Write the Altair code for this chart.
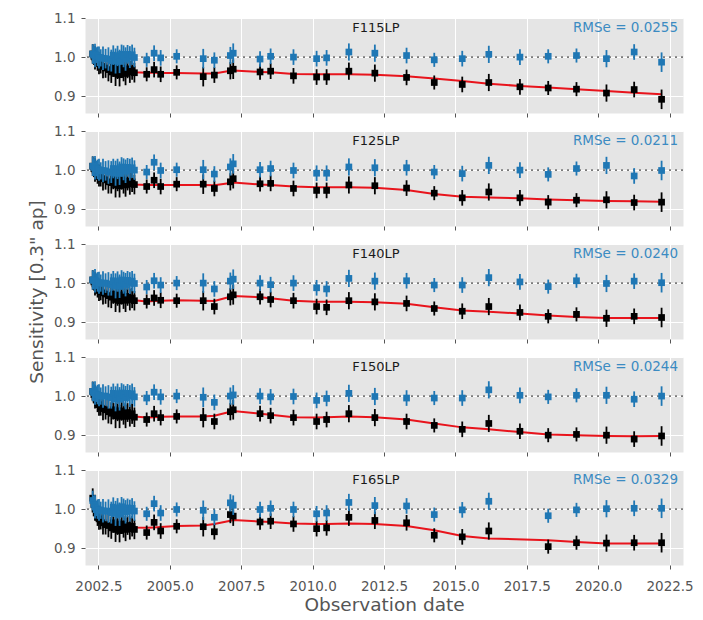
import altair as alt
import pandas as pd

FILTERS = ["F115LP", "F125LP", "F140LP", "F150LP", "F165LP"]
RMSE = ["RMSe = 0.0255", "RMSe = 0.0211", "RMSe = 0.0240", "RMSe = 0.0244", "RMSe = 0.0329"]

DATES = [2002.30, 2002.34, 2002.38, 2002.42, 2002.47, 2002.52, 2002.58, 2002.66, 2002.75, 2002.85, 2002.95,
         2003.02, 2003.10, 2003.17, 2003.24, 2003.31, 2003.38, 2003.45, 2003.52, 2003.60, 2003.68, 2003.76,
         2004.19, 2004.45, 2004.68, 2005.24, 2006.17, 2006.56, 2007.12, 2007.22, 2008.16, 2008.53, 2009.33,
         2010.14, 2010.49, 2011.27, 2012.18, 2013.29, 2014.26, 2015.24, 2016.17, 2017.26, 2018.25, 2019.24,
         2020.29, 2021.26, 2022.22]

ERR = [0.025, 0.022, 0.030, 0.020, 0.025, 0.028, 0.022, 0.030, 0.025, 0.030, 0.028,
       0.025, 0.032, 0.026, 0.030, 0.025, 0.028, 0.030, 0.024, 0.028, 0.026, 0.025,
       0.018, 0.020, 0.020, 0.018, 0.025, 0.020, 0.022, 0.025, 0.020, 0.020, 0.020,
       0.020, 0.020, 0.022, 0.022, 0.020, 0.018, 0.020, 0.022, 0.020, 0.018, 0.018,
       0.022, 0.020, 0.025]

# measured (black)
MEAS_F115 = [1.008, 1.002, 0.998, 0.996, 0.990, 0.984, 0.980, 0.976, 0.972, 0.968, 0.962,
             0.975, 0.958, 0.970, 0.955, 0.972, 0.966, 0.958, 0.970, 0.962, 0.968, 0.960,
             0.956, 0.968, 0.956, 0.961, 0.950, 0.954, 0.965, 0.969, 0.962, 0.964, 0.952,
             0.949, 0.949, 0.964, 0.959, 0.948, 0.935, 0.930, 0.935, 0.924, 0.921, 0.918,
             0.908, 0.917, 0.892]
MEAS_F125 = [1.010, 1.004, 1.000, 0.995, 0.990, 0.986, 0.980, 0.978, 0.975, 0.970, 0.968,
             0.976, 0.962, 0.972, 0.960, 0.975, 0.968, 0.962, 0.972, 0.965, 0.970, 0.963,
             0.958, 0.974, 0.958, 0.964, 0.964, 0.953, 0.970, 0.978, 0.965, 0.966, 0.953,
             0.948, 0.948, 0.962, 0.960, 0.954, 0.941, 0.929, 0.944, 0.929, 0.918, 0.923,
             0.924, 0.917, 0.918]
MEAS_F140 = [1.008, 1.003, 0.998, 0.993, 0.988, 0.982, 0.978, 0.975, 0.972, 0.968, 0.964,
             0.972, 0.958, 0.968, 0.955, 0.970, 0.962, 0.956, 0.966, 0.958, 0.962, 0.955,
             0.953, 0.962, 0.956, 0.955, 0.955, 0.940, 0.965, 0.970, 0.965, 0.958, 0.955,
             0.940, 0.938, 0.955, 0.952, 0.948, 0.935, 0.928, 0.940, 0.925, 0.915, 0.920,
             0.910, 0.915, 0.912]
MEAS_F150 = [1.012, 1.004, 0.998, 0.990, 0.984, 0.978, 0.972, 0.968, 0.965, 0.960, 0.956,
             0.965, 0.950, 0.962, 0.948, 0.962, 0.955, 0.948, 0.958, 0.950, 0.955, 0.946,
             0.940, 0.955, 0.945, 0.948, 0.945, 0.935, 0.960, 0.965, 0.955, 0.950, 0.945,
             0.935, 0.940, 0.955, 0.945, 0.935, 0.925, 0.915, 0.930, 0.910, 0.900, 0.902,
             0.900, 0.890, 0.898]
MEAS_F165 = [1.028, 1.012, 1.000, 0.990, 0.982, 0.975, 0.970, 0.965, 0.960, 0.958, 0.952,
             0.965, 0.948, 0.960, 0.945, 0.962, 0.955, 0.948, 0.958, 0.950, 0.956, 0.948,
             0.940, 0.966, 0.944, 0.956, 0.955, 0.942, 0.986, 0.982, 0.967, 0.969, 0.962,
             0.950, 0.952, 0.979, 0.971, 0.965, 0.933, 0.929, 0.944, None, 0.904, 0.914,
             0.913, 0.914, 0.914]

# model fit (red)
FIT_F115 = [1.000, 0.997, 0.994, 0.991, 0.988, 0.985, 0.982, 0.979, 0.976, 0.973, 0.971,
            0.970, 0.968, 0.967, 0.966, 0.965, 0.964, 0.963, 0.963, 0.962, 0.962, 0.961,
            0.960, 0.960, 0.959, 0.959, 0.958, 0.958, 0.965, 0.966, 0.962, 0.961, 0.957,
            0.956, 0.956, 0.956, 0.955, 0.951, 0.945, 0.939, 0.932, 0.926, 0.922, 0.918,
            0.913, 0.909, 0.905]
FIT_F125 = [1.000, 0.997, 0.994, 0.991, 0.988, 0.985, 0.982, 0.979, 0.977, 0.975, 0.973,
            0.972, 0.970, 0.969, 0.968, 0.967, 0.966, 0.965, 0.965, 0.964, 0.964, 0.963,
            0.962, 0.962, 0.962, 0.962, 0.962, 0.961, 0.967, 0.968, 0.963, 0.962, 0.958,
            0.956, 0.956, 0.956, 0.955, 0.949, 0.939, 0.932, 0.930, 0.928, 0.925, 0.923,
            0.921, 0.920, 0.919]
FIT_F140 = [1.000, 0.996, 0.992, 0.988, 0.985, 0.981, 0.978, 0.975, 0.972, 0.970, 0.968,
            0.966, 0.965, 0.964, 0.963, 0.962, 0.961, 0.960, 0.959, 0.958, 0.957, 0.956,
            0.953, 0.954, 0.955, 0.956, 0.955, 0.954, 0.965, 0.967, 0.964, 0.961, 0.955,
            0.952, 0.952, 0.952, 0.951, 0.947, 0.938, 0.930, 0.927, 0.922, 0.917, 0.913,
            0.911, 0.911, 0.911]
FIT_F150 = [1.000, 0.995, 0.990, 0.985, 0.980, 0.976, 0.972, 0.968, 0.965, 0.962, 0.960,
            0.958, 0.957, 0.956, 0.955, 0.954, 0.953, 0.952, 0.951, 0.950, 0.949, 0.948,
            0.945, 0.946, 0.947, 0.948, 0.948, 0.950, 0.960, 0.962, 0.955, 0.952, 0.946,
            0.945, 0.946, 0.948, 0.946, 0.940, 0.930, 0.920, 0.915, 0.908, 0.902, 0.900,
            0.898, 0.897, 0.898]
FIT_F165 = [1.005, 1.000, 0.994, 0.988, 0.982, 0.977, 0.973, 0.969, 0.966, 0.963, 0.961,
            0.960, 0.959, 0.958, 0.957, 0.956, 0.956, 0.955, 0.955, 0.954, 0.954, 0.953,
            0.952, 0.953, 0.954, 0.957, 0.958, 0.962, 0.970, 0.972, 0.968, 0.967, 0.963,
            0.962, 0.962, 0.963, 0.962, 0.957, 0.946, 0.931, 0.925, None, 0.920, 0.916,
            0.912, 0.912, 0.912]

# corrected (blue)
CORR_F115 = [1.008, 1.005, 1.004, 1.005, 1.002, 0.999, 0.998, 0.997, 0.996, 0.995, 0.991,
             1.005, 0.990, 1.003, 0.989, 1.007, 1.002, 0.995, 1.007, 1.000, 1.006, 0.999,
             0.993, 1.010, 0.998, 1.002, 0.996, 0.992, 1.004, 1.010, 0.995, 1.002, 1.000,
             0.996, 0.998, 1.013, 1.010, 1.004, 0.993, 0.996, 1.007, 1.000, 1.002, 1.004,
             0.996, 1.013, 0.987]
CORR_F125 = [1.010, 1.007, 1.006, 1.004, 1.002, 1.001, 0.998, 0.999, 0.998, 0.995, 0.995,
             1.004, 0.992, 1.003, 0.992, 1.008, 1.002, 0.997, 1.007, 1.001, 1.006, 1.000,
             0.995, 1.020, 0.999, 1.001, 1.001, 0.990, 1.008, 1.016, 1.001, 1.004, 0.999,
             0.992, 0.992, 1.008, 1.006, 1.006, 0.995, 0.991, 1.012, 1.000, 0.989, 1.004,
             1.012, 0.985, 0.999]
CORR_F140 = [1.008, 1.007, 1.006, 1.005, 1.003, 1.001, 1.000, 1.000, 1.000, 0.998, 0.996,
             1.006, 0.993, 1.004, 0.992, 1.008, 1.001, 0.996, 1.007, 1.000, 1.005, 0.999,
             0.990, 1.006, 0.995, 1.000, 1.000, 0.985, 1.005, 1.010, 1.000, 0.996, 1.000,
             0.988, 0.985, 1.012, 1.005, 1.006, 0.995, 0.995, 1.014, 1.003, 0.991, 1.006,
             0.999, 1.005, 1.001]
CORR_F150 = [1.012, 1.009, 1.008, 1.005, 1.004, 1.002, 1.000, 1.000, 1.000, 0.998, 0.996,
             1.007, 0.993, 1.006, 0.993, 1.008, 1.002, 0.996, 1.007, 1.000, 1.006, 0.998,
             0.995, 1.010, 0.998, 1.000, 0.997, 0.984, 1.000, 1.003, 1.000, 0.998, 0.999,
             0.989, 0.994, 1.007, 0.999, 0.995, 0.995, 0.995, 1.016, 1.002, 0.998, 1.002,
             1.002, 0.992, 1.000]
CORR_F165 = [1.022, 1.012, 1.006, 1.002, 1.000, 0.998, 0.997, 0.996, 0.994, 0.995, 0.991,
             1.005, 0.989, 1.002, 0.987, 1.006, 0.999, 0.993, 1.003, 0.996, 1.002, 0.995,
             0.988, 1.014, 0.990, 0.999, 0.997, 0.979, 1.016, 1.010, 0.999, 1.002, 0.999,
             0.988, 0.990, 1.017, 1.009, 1.008, 0.986, 0.998, 1.020, None, 0.983, 0.998,
             1.001, 1.002, 1.002]

MEAS = [MEAS_F115, MEAS_F125, MEAS_F140, MEAS_F150, MEAS_F165]
FIT = [FIT_F115, FIT_F125, FIT_F140, FIT_F150, FIT_F165]
CORR = [CORR_F115, CORR_F125, CORR_F140, CORR_F150, CORR_F165]

X_TICKS = [2002.5, 2005.0, 2007.5, 2010.0, 2012.5, 2015.0, 2017.5, 2020.0, 2022.5]
Y_TICKS = [0.9, 1.0, 1.1]

FONT = "DejaVu Sans"
BLUE = "#1f77b4"
W, H = 598, 95


def panel(i):
    bottom = i == 4
    df = pd.DataFrame({"date": DATES, "meas": MEAS[i], "fit": FIT[i],
                       "corr": CORR[i], "err": ERR}).dropna()
    base = alt.Chart(df).transform_calculate(
        m_lo="datum.meas - datum.err", m_hi="datum.meas + datum.err",
        c_lo="datum.corr - datum.err", c_hi="datum.corr + datum.err")

    xaxis_kw = dict(values=X_TICKS, format=".1f", labels=bottom, grid=True,
                    gridColor="white", gridWidth=1, tickSize=4, domain=False,
                    labelPadding=10, titlePadding=3)
    xaxis_kw["title"] = "Observation date" if bottom else ""
    yaxis_kw = dict(values=Y_TICKS, format=".1f", grid=True, gridColor="white",
                    gridWidth=1, tickSize=4, domain=False, labelPadding=6,
                    titlePadding=7)
    yaxis_kw["title"] = 'Sensitivity [0.3" ap]' if i == 2 else ""

    xs = alt.Scale(domain=[2002.03, 2022.97], nice=False, zero=False)
    ys = alt.Scale(domain=[0.857, 1.1], nice=False, zero=False)
    X = alt.X("date:Q", scale=xs, axis=alt.Axis(**xaxis_kw))

    one = alt.Chart(pd.DataFrame({"v": [1.0]})).mark_rule(
        color="#7a7a7a", strokeDash=[2, 4], strokeWidth=1.6
    ).encode(y=alt.Y("v:Q", scale=ys, axis=alt.Axis(**yaxis_kw)))

    fit_line = base.mark_line(color="#e8141c", strokeWidth=2).encode(
        x=X, y=alt.Y("fit:Q", scale=ys))
    m_err = base.mark_rule(color="black", strokeWidth=1.8).encode(
        x=X, y=alt.Y("m_lo:Q", scale=ys), y2="m_hi:Q")
    m_pts = base.mark_square(color="black", size=45, opacity=1).encode(
        x=X, y=alt.Y("meas:Q", scale=ys))
    c_err = base.mark_rule(color=BLUE, strokeWidth=1.8).encode(
        x=X, y=alt.Y("c_lo:Q", scale=ys), y2="c_hi:Q")
    c_pts = base.mark_square(color=BLUE, size=45, opacity=1).encode(
        x=X, y=alt.Y("corr:Q", scale=ys))

    lab = alt.Chart(pd.DataFrame({"t": [FILTERS[i]]})).mark_text(
        font=FONT, fontSize=13, color="#1a1a1a", align="center", baseline="middle"
    ).encode(text="t:N", x=alt.value(291), y=alt.value(10))
    rms = alt.Chart(pd.DataFrame({"t": [RMSE[i]]})).mark_text(
        font=FONT, fontSize=13.5, color="#3b8bc2", align="right", baseline="middle"
    ).encode(text="t:N", x=alt.value(593), y=alt.value(10))

    return alt.layer(one, fit_line, m_err, m_pts, c_err, c_pts, lab, rms).properties(
        width=W, height=H)


chart = alt.vconcat(*[panel(i) for i in range(5)], spacing=18, bounds="flush").properties(
    padding={"left": 27, "top": 10, "right": 5, "bottom": 5}
).configure(font=FONT).configure_view(
    fill="#e5e5e5", stroke="transparent"
).configure_axis(
    labelFont=FONT, labelFontSize=13.5, labelColor="#555555",
    titleFont=FONT, titleFontSize=18.5, titleColor="#555555", titleFontWeight="normal",
    tickColor="#555555"
)

chart.save("out.html", embed_options={"renderer": "svg", "actions": False})
